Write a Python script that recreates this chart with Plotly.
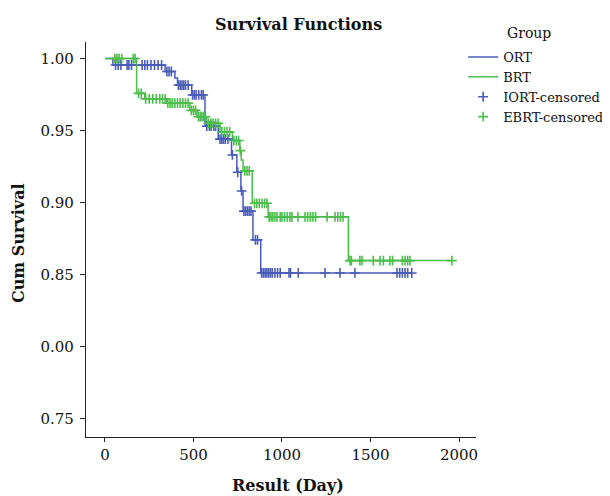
import plotly.graph_objects as go
import bisect

# ---------------- data ----------------
# ORT (IORT) Kaplan-Meier steps
ort_times = [0, 45, 340, 395, 410, 490, 565, 640, 715, 745, 768, 780, 836, 880]
ort_surv = [1.0, 0.9955, 0.991, 0.9865, 0.9816, 0.9747, 0.953, 0.944, 0.933, 0.921, 0.908, 0.894, 0.874, 0.851]
ort_censored = [60, 75, 90, 125, 135, 150, 210, 225, 240, 260, 280, 300, 320,
                350, 362, 375,
                415, 425, 435, 445, 455, 470,
                495, 505, 515, 530, 545, 555,
                575, 590, 600, 615, 625,
                650, 660, 670, 680, 695,
                720, 750, 772,
                785, 795, 805, 815, 825,
                850, 862,
                885, 895, 905, 915, 925, 935, 945, 960, 975, 990, 1040, 1048, 1092,
                1243, 1328, 1412, 1650, 1665, 1680, 1695, 1710, 1733]

# BRT (EBRT) Kaplan-Meier steps
brt_times = [0, 179, 225, 348, 480, 520, 575, 650, 720, 762, 770, 780, 832, 922, 1375]
brt_surv = [1.0, 0.9758, 0.972, 0.969, 0.964, 0.9596, 0.955, 0.949, 0.943, 0.936, 0.9295, 0.922, 0.8994, 0.890, 0.8596]
brt_censored = [56, 68, 80, 95, 160, 170,
                190, 205,
                230, 250, 270, 290, 310, 325, 340,
                355, 368, 380, 395, 410, 425, 440, 455, 470,
                488, 500, 512,
                528, 538, 548, 558, 568,
                585, 598, 610, 625, 640,
                660, 675, 690, 705,
                728, 742, 755,
                765,
                790, 803, 815,
                845, 858, 872, 888, 902, 915,
                928, 938, 948, 960, 972, 990, 1000, 1015, 1030, 1045, 1056, 1090,
                1130, 1145, 1160, 1175, 1190, 1255, 1300, 1315, 1330, 1345,
                1384, 1392, 1440, 1452, 1516, 1554, 1573, 1610, 1625, 1680, 1695, 1710, 1723, 1960]

y_tickvals = [0.75, 0.80, 0.85, 0.90, 0.95, 1.00]
y_ticktext = ["0.75", "0.00", "0.85", "0.90", "0.95", "1.00"]
x_tickvals = [0, 500, 1000, 1500, 2000]

BLUE = "#4a5cb8"
GREEN = "#4dbd4d"
FONT = "DejaVu Serif"


def level_at(times, surv, t):
    i = bisect.bisect_right(times, t) - 1
    return surv[max(i, 0)]


def step_xy(times, surv, end):
    return times + [end], surv + [surv[-1]]


fig = go.Figure()

ox, oy = step_xy(ort_times, ort_surv, max(ort_censored))
bx, by = step_xy(brt_times, brt_surv, max(brt_censored))

fig.add_trace(go.Scatter(x=ox, y=oy, mode="lines", line=dict(shape="hv", color=BLUE, width=1.5),
                         name="ORT"))
fig.add_trace(go.Scatter(x=bx, y=by, mode="lines", line=dict(shape="hv", color=GREEN, width=1.5),
                         name="BRT"))
fig.add_trace(go.Scatter(x=ort_censored, y=[level_at(ort_times, ort_surv, t) for t in ort_censored],
                         mode="markers", name="IORT-censored",
                         marker=dict(symbol="cross-thin", size=7, line=dict(color=BLUE, width=1.6))))
fig.add_trace(go.Scatter(x=brt_censored, y=[level_at(brt_times, brt_surv, t) for t in brt_censored],
                         mode="markers", name="EBRT-censored",
                         marker=dict(symbol="cross-thin", size=7, line=dict(color=GREEN, width=1.6))))

# plot area (screen px): left 86, right 476, top 42, bottom 437; page has 8px body margin
fig.update_layout(
    width=602, height=488,
    margin=dict(l=78, r=134, t=34, b=59, autoexpand=False),
    paper_bgcolor="white", plot_bgcolor="white",
    font=dict(family=FONT, size=15, color="#111111"),
    showlegend=True,
    legend=dict(x=0.967, y=1.0, xanchor="left", yanchor="top",
                font=dict(family=FONT, size=13, color="#111111"),
                bgcolor="rgba(0,0,0,0)", tracegroupgap=0),
    xaxis=dict(range=[-107, 2096], tickvals=x_tickvals, showgrid=False, zeroline=False,
               showline=True, linecolor="#222222", linewidth=1.2,
               ticks="outside", ticklen=4, tickcolor="#222222",
               tickfont=dict(family=FONT, size=15, color="#111111")),
    yaxis=dict(range=[0.737, 1.0115], tickvals=y_tickvals, ticktext=y_ticktext,
               showgrid=False, zeroline=False,
               showline=True, linecolor="#222222", linewidth=1.2,
               ticks="outside", ticklen=5, tickcolor="#222222", ticklabelstandoff=3,
               tickfont=dict(family=FONT, size=15, color="#111111")),
    annotations=[
        dict(text="<b>Survival Functions</b>", xref="paper", yref="paper",
             x=(298 - 86) / 390, y=1 + (42 - 25) / 395, xanchor="center", yanchor="middle",
             showarrow=False, font=dict(family=FONT, size=16, color="#111111")),
        dict(text="<b>Cum Survival</b>", xref="paper", yref="paper",
             x=(18 - 86) / 390, y=(437 - 243) / 395, xanchor="center", yanchor="middle",
             textangle=-90, showarrow=False, font=dict(family=FONT, size=16, color="#111111")),
        dict(text="<b>Result (Day)</b>", xref="paper", yref="paper",
             x=(288 - 86) / 390, y=-(485 - 437) / 395, xanchor="center", yanchor="middle",
             showarrow=False, font=dict(family=FONT, size=16, color="#111111")),
        dict(text="Group", xref="paper", yref="paper",
             x=(505 - 86) / 390, y=1 + (42 - 33) / 395, xanchor="left", yanchor="middle",
             showarrow=False, font=dict(family=FONT, size=14, color="#111111")),
    ],
)

fig.write_html("out.html")
